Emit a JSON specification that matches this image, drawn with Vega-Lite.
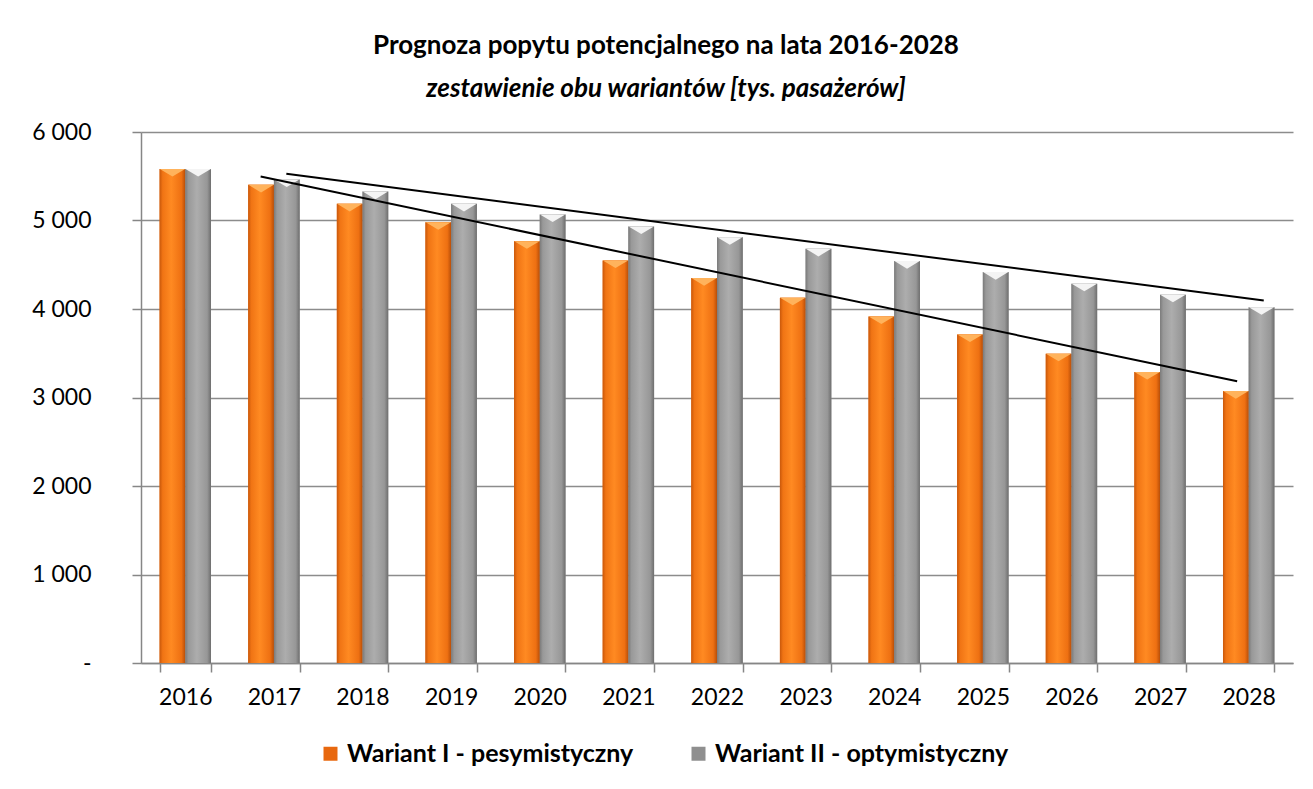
{
  "$schema": "https://vega.github.io/schema/vega-lite/v6.json",
  "width": 1152,
  "height": 531,
  "autosize": {"type": "none"},
  "padding": {"left": 141, "top": 132, "right": 20, "bottom": 126},
  "background": "white",
  "config": {
    "view": {"stroke": null},
    "font": "Lato",
    "axisY": {"labelPadding": 41, "tickSize": 9},
    "axisX": {"labelPadding": 14, "tickSize": 9}
  },
  "title": {
    "text": "Prognoza popytu potencjalnego na lata 2016-2028",
    "subtitle": "zestawienie obu wariantów [tys. pasażerów]",
    "anchor": "middle",
    "dx": -51,
    "font": "Lato",
    "fontSize": 26,
    "fontWeight": "bold",
    "color": "#000000",
    "subtitleFont": "Lato",
    "subtitleFontSize": 26,
    "subtitleFontWeight": "bold",
    "subtitleFontStyle": "italic",
    "subtitleColor": "#000000",
    "subtitlePadding": 17,
    "offset": 19
  },
  "datasets": {
    "bars": [
      {"year": "2016", "series": "Wariant I - pesymistyczny", "value": 5583},
      {"year": "2016", "series": "Wariant II - optymistyczny", "value": 5583},
      {"year": "2017", "series": "Wariant I - pesymistyczny", "value": 5403},
      {"year": "2017", "series": "Wariant II - optymistyczny", "value": 5463},
      {"year": "2018", "series": "Wariant I - pesymistyczny", "value": 5188},
      {"year": "2018", "series": "Wariant II - optymistyczny", "value": 5327},
      {"year": "2019", "series": "Wariant I - pesymistyczny", "value": 4981},
      {"year": "2019", "series": "Wariant II - optymistyczny", "value": 5188},
      {"year": "2020", "series": "Wariant I - pesymistyczny", "value": 4766},
      {"year": "2020", "series": "Wariant II - optymistyczny", "value": 5068},
      {"year": "2021", "series": "Wariant I - pesymistyczny", "value": 4549},
      {"year": "2021", "series": "Wariant II - optymistyczny", "value": 4932},
      {"year": "2022", "series": "Wariant I - pesymistyczny", "value": 4349},
      {"year": "2022", "series": "Wariant II - optymistyczny", "value": 4812},
      {"year": "2023", "series": "Wariant I - pesymistyczny", "value": 4128},
      {"year": "2023", "series": "Wariant II - optymistyczny", "value": 4680},
      {"year": "2024", "series": "Wariant I - pesymistyczny", "value": 3916},
      {"year": "2024", "series": "Wariant II - optymistyczny", "value": 4541},
      {"year": "2025", "series": "Wariant I - pesymistyczny", "value": 3713},
      {"year": "2025", "series": "Wariant II - optymistyczny", "value": 4417},
      {"year": "2026", "series": "Wariant I - pesymistyczny", "value": 3495},
      {"year": "2026", "series": "Wariant II - optymistyczny", "value": 4286},
      {"year": "2027", "series": "Wariant I - pesymistyczny", "value": 3288},
      {"year": "2027", "series": "Wariant II - optymistyczny", "value": 4161},
      {"year": "2028", "series": "Wariant I - pesymistyczny", "value": 3073},
      {"year": "2028", "series": "Wariant II - optymistyczny", "value": 4021}
    ],
    "trend": [
      {"line": "I", "pos": 2016.85, "value": 5497},
      {"line": "I", "pos": 2027.87, "value": 3183},
      {"line": "II", "pos": 2017.14, "value": 5527},
      {"line": "II", "pos": 2028.17, "value": 4097}
    ]
  },
  "layer": [
    {
      "data": {"name": "bars"},
      "encoding": {
        "x": {
          "field": "year",
          "type": "nominal",
          "scale": {"paddingInner": 0.42, "paddingOuter": 0.21},
          "axis": {
            "title": null,
            "labelAngle": 0,
            "labelFont": "Lato",
            "labelFontSize": 23,
            "labelColor": "#000000",
            "labelPadding": 14,
            "tickBand": "extent",
            "tickSize": 9,
            "tickColor": "#868686",
            "tickWidth": 1.5,
            "domainColor": "#868686",
            "domainWidth": 1.5,
            "grid": false
          }
        },
        "xOffset": {
          "field": "series",
          "type": "nominal",
          "scale": {"domain": ["Wariant I - pesymistyczny", "Wariant II - optymistyczny"], "paddingInner": 0}
        },
        "y": {
          "field": "value",
          "type": "quantitative",
          "scale": {"domain": [0, 6000], "nice": false},
          "axis": {
            "title": null,
            "values": [0, 1000, 2000, 3000, 4000, 5000, 6000],
            "labelExpr": "datum.value == 0 ? '-' : replace(format(datum.value, ','), ',', ' ')",
            "labelFont": "Lato",
            "labelFontSize": 23,
            "labelColor": "#000000",
            "labelPadding": 41,
            "tickSize": 9,
            "tickColor": "#868686",
            "tickWidth": 1.5,
            "domainColor": "#868686",
            "domainWidth": 1.5,
            "gridColor": "#8C8C8C",
            "gridWidth": 1.5
          }
        }
      },
      "layer": [
        {
          "mark": {"type": "bar"},
          "encoding": {
            "color": {
              "field": "series",
              "type": "nominal",
              "scale": {"domain": ["Wariant I - pesymistyczny", "Wariant II - optymistyczny"], "range": ["#E8680F", "#8F8F8F"]},
              "legend": {
                "title": null,
                "orient": "none",
                "legendX": 177,
                "legendY": 609,
                "direction": "horizontal",
                "symbolType": "square",
                "symbolSize": 196,
                "symbolStrokeWidth": 0,
                "labelFont": "Lato",
                "labelFontSize": 25,
                "labelFontWeight": "bold",
                "labelColor": "#000000",
                "labelOffset": 4,
                "columnPadding": 52,
                "labelLimit": 500
              }
            }
          }
        },
        {
          "transform": [{"filter": "datum.series == 'Wariant I - pesymistyczny'"}],
          "mark": {
            "type": "bar",
            "fill": {
              "gradient": "linear", "x1": 0, "x2": 1, "y1": 0, "y2": 0,
              "stops": [
                {"offset": 0, "color": "#C9580B"},
                {"offset": 0.12, "color": "#F07414"},
                {"offset": 0.45, "color": "#FF8A22"},
                {"offset": 0.85, "color": "#EE7012"},
                {"offset": 1, "color": "#B84E08"}
              ]
            }
          }
        },
        {
          "transform": [{"filter": "datum.series == 'Wariant II - optymistyczny'"}],
          "mark": {
            "type": "bar",
            "fill": {
              "gradient": "linear", "x1": 0, "x2": 1, "y1": 0, "y2": 0,
              "stops": [
                {"offset": 0, "color": "#7A7A7A"},
                {"offset": 0.12, "color": "#999999"},
                {"offset": 0.45, "color": "#ADADAD"},
                {"offset": 0.85, "color": "#979797"},
                {"offset": 1, "color": "#6E6E6E"}
              ]
            }
          }
        },
        {
          "mark": {
            "type": "point",
            "shape": "M-1,0L1,0L0,0.6Z",
            "size": 640,
            "filled": true,
            "opacity": 1,
            "strokeWidth": 0
          },
          "encoding": {
            "fill": {
              "condition": {"test": "datum.series == 'Wariant I - pesymistyczny'", "value": "#FFB35C"},
              "value": "#F4F4F4"
            }
          }
        }
      ]
    },
    {
      "data": {"name": "trend"},
      "mark": {"type": "line", "color": "#000000", "strokeWidth": 2},
      "encoding": {
        "x": {
          "field": "pos",
          "type": "quantitative",
          "scale": {"domain": [2015.5, 2028.5], "nice": false, "zero": false},
          "axis": null
        },
        "y": {
          "field": "value",
          "type": "quantitative",
          "scale": {"domain": [0, 6000], "nice": false},
          "axis": {
            "title": null,
            "values": [0, 1000, 2000, 3000, 4000, 5000, 6000],
            "labelExpr": "datum.value == 0 ? '-' : replace(format(datum.value, ','), ',', ' ')",
            "labelFont": "Lato",
            "labelFontSize": 23,
            "labelColor": "#000000",
            "labelPadding": 41,
            "tickSize": 9,
            "tickColor": "#868686",
            "tickWidth": 1.5,
            "domainColor": "#868686",
            "domainWidth": 1.5,
            "gridColor": "#8C8C8C",
            "gridWidth": 1.5
          }
        },
        "detail": {"field": "line", "type": "nominal"}
      }
    }
  ],
  "resolve": {"scale": {"x": "independent"}}
}
